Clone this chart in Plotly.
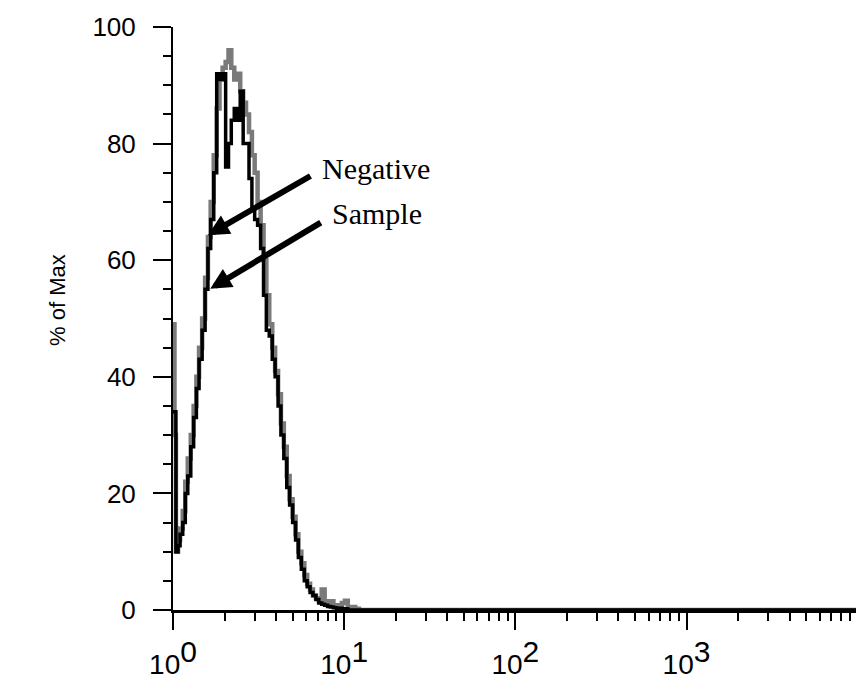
import math
import plotly.graph_objects as go

# Fluorescence channel positions (log scale) and % of Max values
neg_x = [1.00, 1.02, 1.04, 1.07, 1.10, 1.14, 1.18, 1.22, 1.27, 1.32, 1.37, 1.42, 1.48,
         1.54, 1.60, 1.66, 1.73, 1.80, 1.87, 1.95, 2.03, 2.11, 2.19, 2.28, 2.37, 2.47,
         2.57, 2.67, 2.78, 2.89, 3.00, 3.12, 3.25, 3.38, 3.51, 3.65, 3.80, 3.95, 4.11,
         4.27, 4.44, 4.62, 4.80, 5.00, 5.20, 5.40, 5.62, 5.85, 6.08, 6.32, 6.57, 6.84,
         7.11, 7.39, 7.69, 8.00, 8.30, 8.65, 9.00, 9.35, 9.70, 10.1, 10.5, 11.0, 11.6,
         12.2, 10000]
neg_y = [49, 30, 10, 12, 14, 17, 22, 26, 30, 35, 40, 45, 50,
         57, 64, 70, 78, 86, 91, 93, 94, 96, 93, 91, 92, 89,
         87, 85, 82, 78, 75, 70, 66, 60, 54, 49, 45, 41, 37,
         32, 28, 23, 19, 16, 13, 10, 8, 6, 4.5, 3.5, 2.5, 2,
         1.5, 3.5, 1.5, 1, 1.5, 0.8, 0.6, 0.8, 1.2, 1.6, 0.5, 0.5, 0.2,
         0, 0]

smp_x = [1.00, 1.02, 1.04, 1.07, 1.10, 1.14, 1.18, 1.22, 1.27, 1.32, 1.37, 1.42, 1.48,
         1.54, 1.60, 1.66, 1.73, 1.80, 1.87, 1.95, 2.03, 2.11, 2.19, 2.28, 2.37, 2.47,
         2.57, 2.67, 2.78, 2.89, 3.00, 3.12, 3.25, 3.38, 3.51, 3.65, 3.80, 3.95, 4.11,
         4.27, 4.44, 4.62, 4.80, 5.00, 5.20, 5.40, 5.62, 5.85, 6.08, 6.32, 6.57, 6.84,
         7.11, 7.39, 7.69, 8.00, 8.30, 8.65, 9.00, 9.35, 9.70, 10.1, 10.5, 10000]
smp_y = [34, 34, 10, 11, 13, 15, 20, 23, 28, 33, 38, 43, 48,
         55, 62, 67, 75, 92, 91, 92, 76, 80, 84, 86, 84, 89,
         80, 80, 74, 69, 67, 66, 62, 54, 48, 47, 43, 40, 35,
         30, 26, 21, 18, 15, 12, 9, 7, 5, 4, 3, 2.5, 1.8,
         1.2, 1, 0.8, 0.6, 0.5, 0.4, 0.3, 0.3, 0.2, 0.2, 0, 0]

SUP = "<sup><span style='font-size:30px'>{}</span></sup>"
x_tickvals = [1, 10, 100, 1000]
x_ticktext = ["10" + SUP.format(e) for e in ["0", "1", "2", "3"]]
y_tickvals = [0, 20, 40, 60, 80, 100]
y_ticktext = ["0", "20", "40", "60", "80", "100"]

labels = ["Negative", "Sample"]
arrow_tips = [(1.60, 64.3), (1.65, 55.1)]

fig = go.Figure()
fig.add_trace(go.Scatter(x=neg_x, y=neg_y, mode="lines", line_shape="hv",
                         line=dict(color="#7a7a7a", width=4.5), name=labels[0]))
fig.add_trace(go.Scatter(x=smp_x, y=smp_y, mode="lines", line_shape="hv",
                         line=dict(color="black", width=3.5), name=labels[1]))

minor_x = [m * 10 ** d for d in range(4) for m in range(2, 10)]

fig.update_layout(
    width=856, height=679,
    margin=dict(l=173, r=0, t=27, b=69),
    plot_bgcolor="white", paper_bgcolor="white",
    showlegend=False,
    font=dict(family="Liberation Sans, Arial", color="black"),
    xaxis=dict(type="log", range=[0, 3.99],
               tickmode="array", tickvals=x_tickvals, ticktext=x_ticktext,
               ticks="outside", ticklen=17, tickwidth=2, tickcolor="black",
               showline=True, linecolor="black", linewidth=3,
               showgrid=False, zeroline=False,
               tickfont=dict(size=28, family="Liberation Sans, Arial"),
               ticklabelstandoff=10,
               minor=dict(tickmode="array", tickvals=minor_x, ticks="outside",
                          ticklen=8, tickwidth=2, tickcolor="black", showgrid=False)),
    yaxis=dict(range=[0, 100],
               tickmode="array", tickvals=y_tickvals, ticktext=y_ticktext,
               ticks="outside", ticklen=18, tickwidth=2, tickcolor="black",
               showline=True, linecolor="black", linewidth=2,
               showgrid=False, zeroline=False,
               tickfont=dict(size=26, family="Liberation Sans, Arial"),
               ticklabelstandoff=12,
               minor=dict(dtick=5, ticks="outside", ticklen=8, tickwidth=2,
                          tickcolor="black", showgrid=False)),
)

fig.add_annotation(text="% of Max", xref="paper", yref="paper",
                   x=(58 - 173) / 683, y=(610 - 300) / 583,
                   xanchor="center", yanchor="middle", textangle=-90,
                   showarrow=False, font=dict(size=22, family="Liberation Sans, Arial"))

# arrows (tip at data coords, tail offset in pixels)
arrow_offsets = [(104, -60), (112, -67)]
text_pos = [(320, 168), (330, 213)]
for lab, (tx, ty), (ax, ay), (px, py) in zip(labels, arrow_tips, arrow_offsets, text_pos):
    fig.add_annotation(x=math.log10(tx), y=ty, xref="x", yref="y", text="", showarrow=True,
                       ax=ax, ay=ay, arrowhead=2, arrowsize=0.7, arrowwidth=6,
                       arrowcolor="black", standoff=0)
    fig.add_annotation(text=lab, xref="paper", yref="paper",
                       x=(px - 173) / 683, y=(610 - py) / 583,
                       xanchor="left", yanchor="middle", showarrow=False,
                       font=dict(size=30, family="Liberation Serif, Times New Roman"))

fig.write_html("out.html")
